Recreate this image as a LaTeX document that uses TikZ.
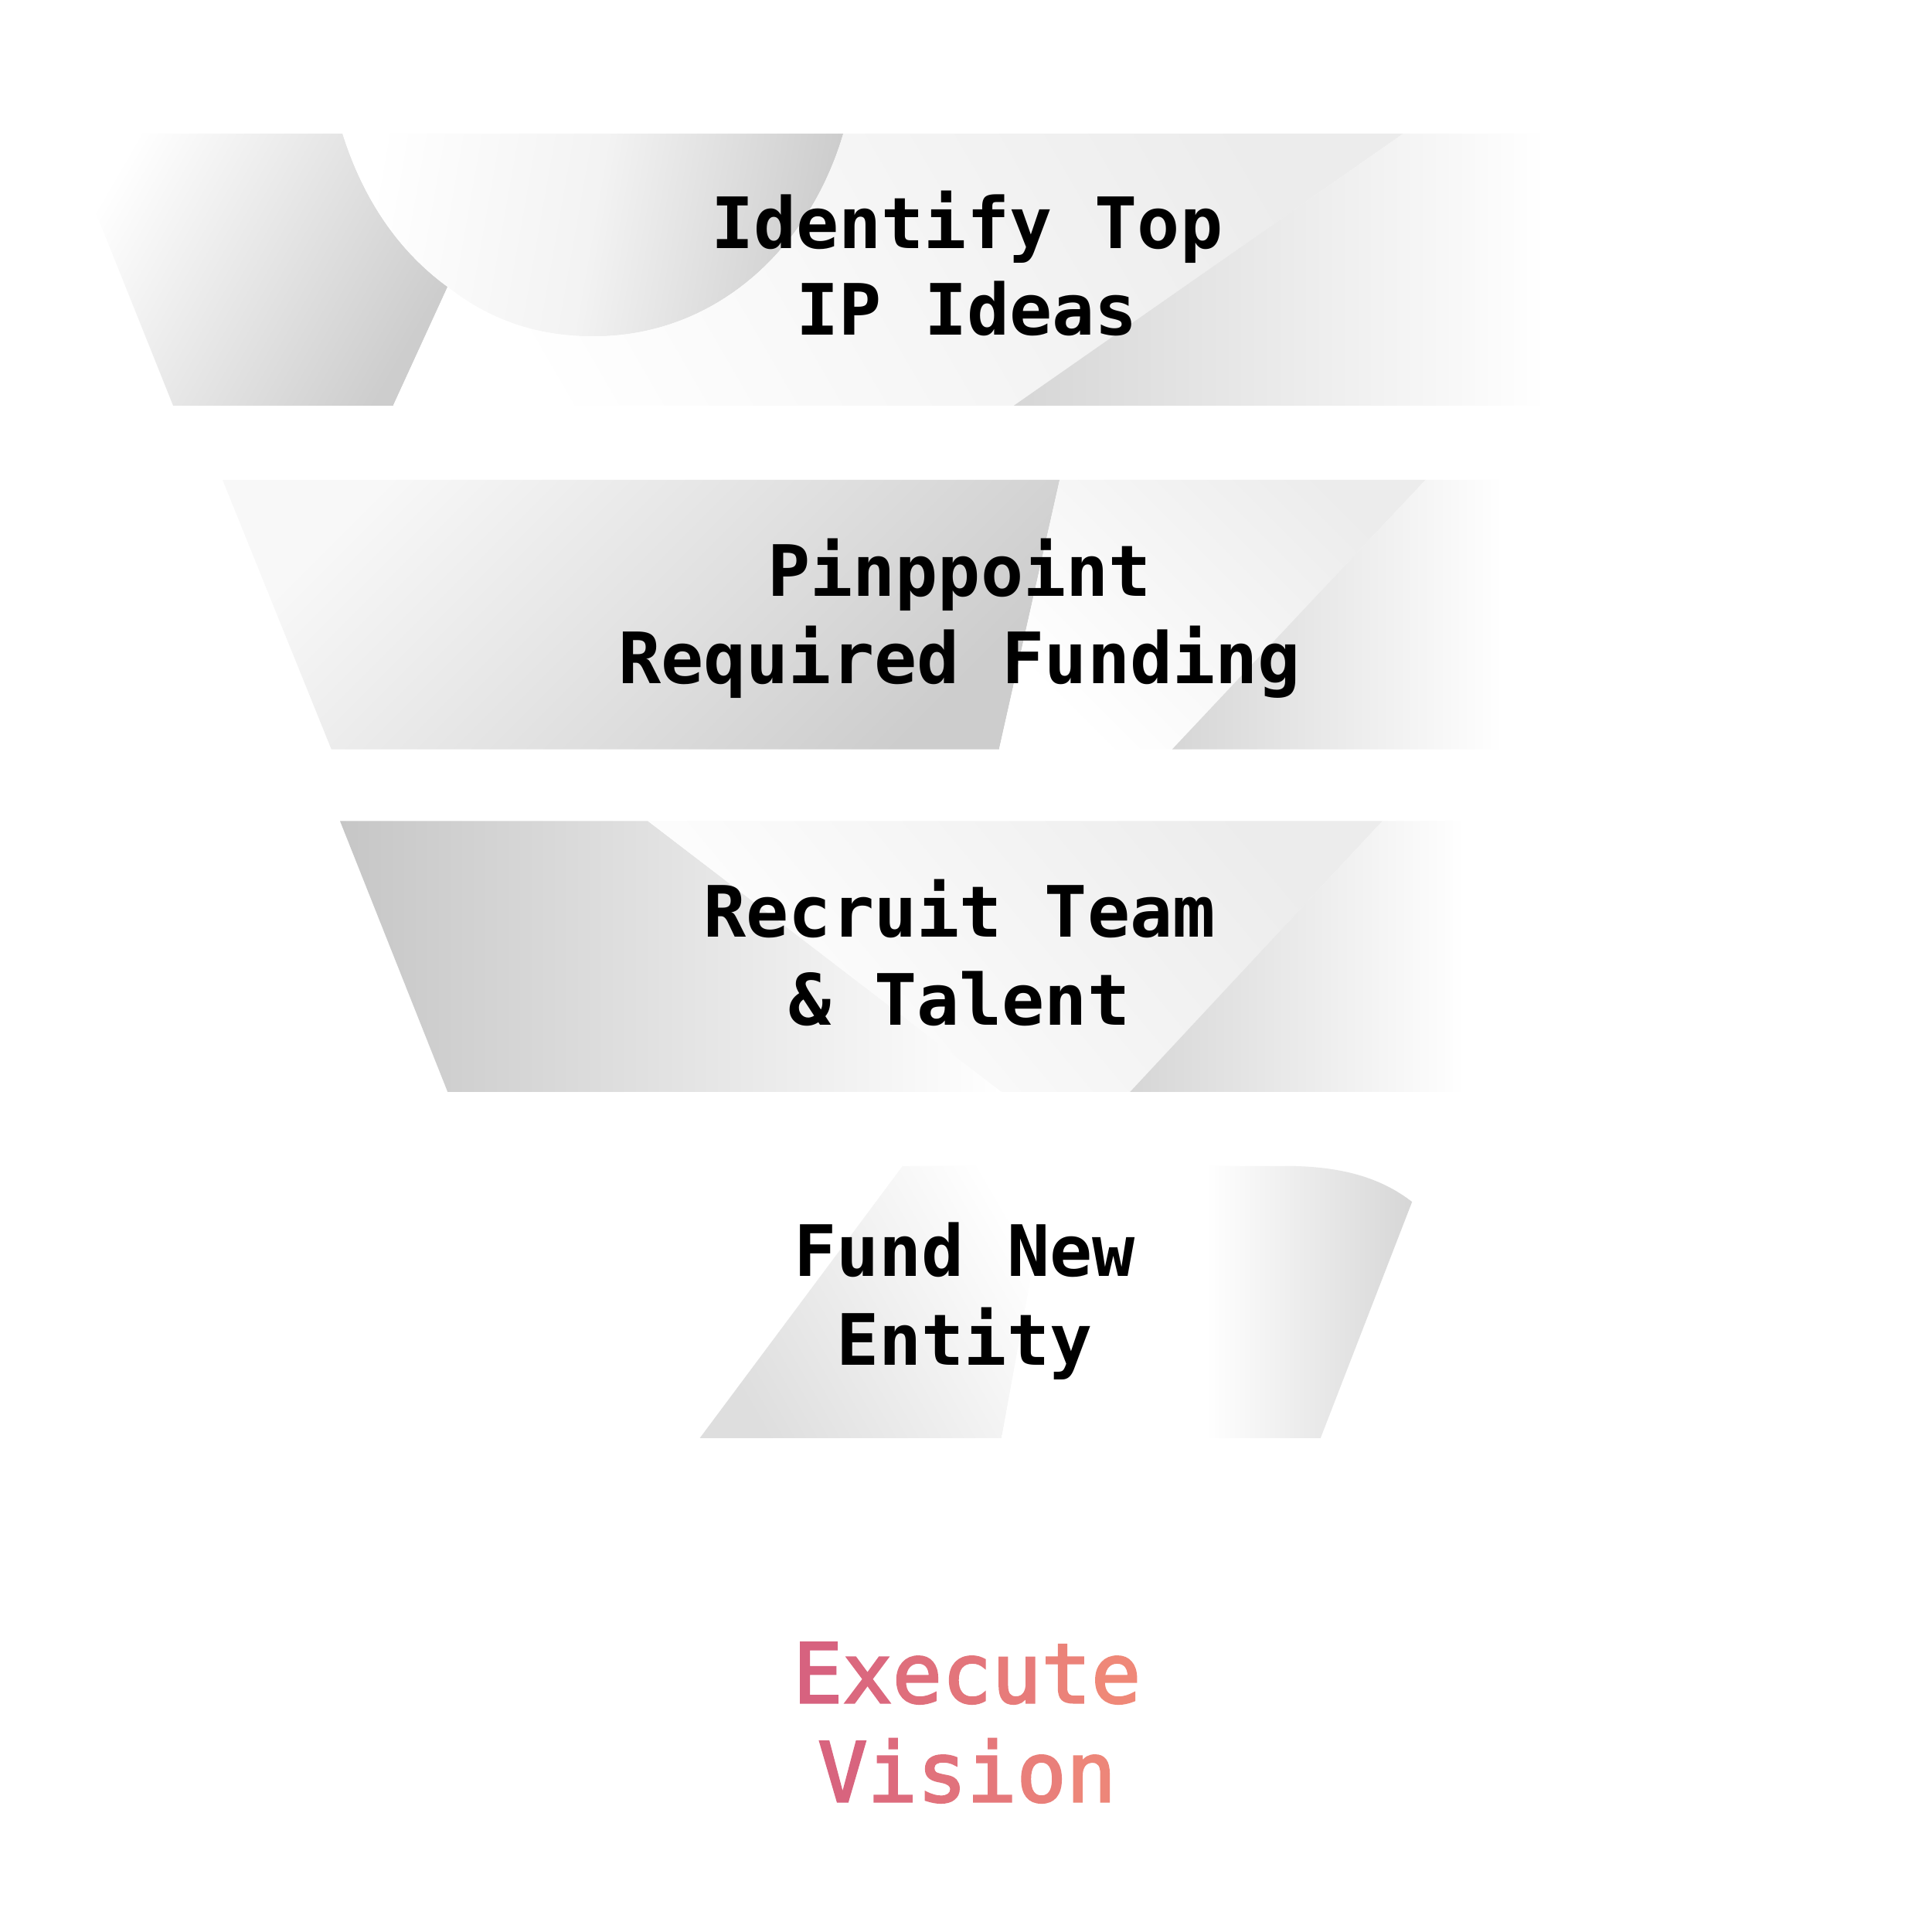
\documentclass[tikz,border=0pt]{standalone}
\usepackage{fontspec}
\setmonofont{DejaVu Sans Mono}
\newfontfamily\goalfont[FakeBold=2.5]{DejaVu Sans Mono}
\definecolor{gA}{HTML}{CDCDCD}
\definecolor{gB}{HTML}{D6D6D6}
\definecolor{gC}{HTML}{ECECEC}
\definecolor{gD}{HTML}{C6C6C6}
\definecolor{gE}{HTML}{F8F8F8}
\definecolor{exL}{HTML}{D6607F}
\definecolor{exR}{HTML}{F08A78}
\pgfdeclarehorizontalshading{fadeOutB}{100bp}{color(0bp)=(gB); color(25bp)=(gB); color(56bp)=(white); color(100bp)=(white)}
\pgfdeclarehorizontalshading{fadeOutC}{100bp}{color(0bp)=(gB); color(25bp)=(gB); color(62bp)=(white); color(100bp)=(white)}

\begin{document}
\begin{tikzpicture}[x=0.1mm,y=-0.1mm,
        StepTxt/.style={
            font=\ttfamily\bfseries\fontsize{16.3}{19}\selectfont,
            anchor=base,
            inner sep=0pt
        },
        GoalTxt/.style={
            font=\goalfont\fontsize{19}{22}\selectfont,
            anchor=base,
            inner sep=0pt
        }
    ]
    \useasboundingbox (0,0) rectangle (1562.5,1562.5);
    \fill[white] (0,0) rectangle (1562.5,1562.5);
    
    %band 1
    \shade[top color=white,bottom color=gA,shading angle=60] (52,108)--(277,108) .. controls (295,165) and (325,205) .. (362,232)--(318,328)--(140,328)--cycle;
    \shade[left color=white,right color=gA,middle color=gA!25!white,shading angle=80] (277,108) .. controls (295,165) and (325,205) .. (362,232) .. controls (400,262) and (440,272) .. (480,272) .. controls (580,272) and (655,200) .. (682,108)--cycle;
    \shade[top color=gC,bottom color=white,shading angle=-60] (318,328)--(362,232) .. controls (400,262) and (440,272) .. (480,272) .. controls (580,272) and (655,200) .. (682,108)--(1135,108)--(820,328)--cycle;
    \shade[shading=fadeOutB] (1135,108)--(1514,108)--(1428,328)--(820,328)--cycle;
    
    %band 2
    \shade[top color=gE,bottom color=gA,shading angle=45] (180,388)--(857,388)--(808,606)--(268,606)--cycle;
    \shade[top color=gC,bottom color=white,shading angle=-45] (857,388)--(1153,388)--(948,606)--(808,606)--cycle;
    \shade[shading=fadeOutB] (1153,388)--(1379,388)--(1294,606)--(948,606)--cycle;
    
    %band 3
    \shade[left color=gD,right color=white] (275,664)--(524,664)--(810,883)--(362,883)--cycle;
    \shade[top color=gC,bottom color=white,shading angle=-50] (524,664)--(1118,664)--(914,883)--(810,883)--cycle;
    \shade[shading=fadeOutC] (1118,664)--(1280,664)--(1195,883)--(914,883)--cycle;
    
    %band 4
    \shade[top color=gB!80,bottom color=white,shading angle=120] (730,943)--(850,943)--(810,1163)--(566,1163)--cycle;
    \shade[left color=white,right color=gB,middle color=white] (850,943)--(1040,943) .. controls (1090,943) and (1120,955) .. (1142,972)--(1068,1163)--(810,1163)--cycle;
    
    %steps
    \node[StepTxt] (S1a) at (782,201) {Identify Top};
    \node[StepTxt] (S1b) at (782,271) {IP Ideas};
    \node[StepTxt] (S2a) at (776,482) {Pinppoint};
    \node[StepTxt] (S2b) at (776,553) {Required Funding};
    \node[StepTxt] (S3a) at (776,758) {Recruit Team};
    \node[StepTxt] (S3b) at (776,829) {\& Talent};
    \node[StepTxt] (S4a) at (780,1032) {Fund New};
    \node[StepTxt] (S4b) at (780,1104) {Entity};
    
    %goal
    \node[GoalTxt] (Ga) at (782,1377) {\textcolor{exR!5!exL}{E}\textcolor{exR!20!exL}{x}\textcolor{exR!35!exL}{e}\textcolor{exR!50!exL}{c}\textcolor{exR!65!exL}{u}\textcolor{exR!80!exL}{t}\textcolor{exR!95!exL}{e}};
    \node[GoalTxt] (Gb) at (782,1457) {\textcolor{exR!10!exL}{V}\textcolor{exR!26!exL}{i}\textcolor{exR!42!exL}{s}\textcolor{exR!58!exL}{i}\textcolor{exR!74!exL}{o}\textcolor{exR!90!exL}{n}};
    
\end{tikzpicture}
\end{document}
